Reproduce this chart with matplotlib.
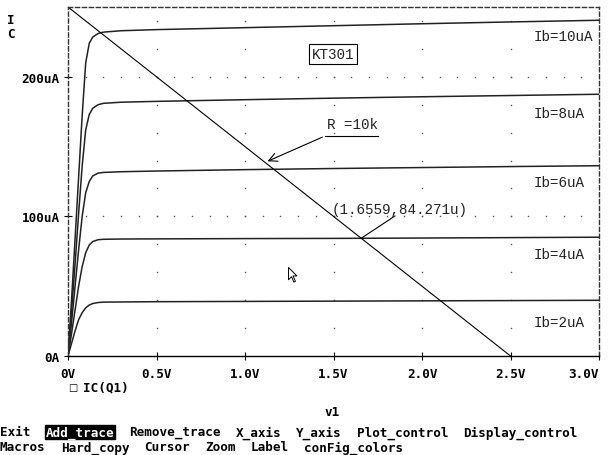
import numpy as np
import matplotlib
matplotlib.use("Agg")
import matplotlib.pyplot as plt
from matplotlib.path import Path

# collector voltage points (V) and collector currents (uA) for each base current
v_ce = [0, 0.02, 0.04, 0.06, 0.08, 0.10, 0.12, 0.14, 0.17, 0.20, 0.30, 0.50, 1.0, 1.5, 2.0, 2.5, 3.0]
ic_2u = [0, 9, 18, 26, 31, 34.5, 36.5, 37.6, 38.3, 38.6, 38.7, 38.9, 39.1, 39.3, 39.5, 39.7, 39.9]
ic_4u = [0, 16, 33, 50, 64, 74, 79.5, 82, 83.3, 83.6, 83.8, 83.9, 84.1, 84.25, 84.5, 84.8, 85.1]
ic_6u = [0, 24, 50, 76, 100, 117, 125, 129, 131, 131.5, 132, 132.5, 133.5, 134.3, 135, 135.7, 136.3]
ic_8u = [0, 32, 66, 102, 136, 162, 173, 177.5, 180, 181, 181.8, 182.4, 183.6, 184.7, 185.7, 186.6, 187.5]
ic_10u = [0, 40, 84, 128, 172, 210, 224, 228.5, 231, 232, 233, 233.8, 235.2, 236.6, 238, 239.3, 240.5]
curves = [ic_2u, ic_4u, ic_6u, ic_8u, ic_10u]
curve_labels = ["Ib=2uA", "Ib=4uA", "Ib=6uA", "Ib=8uA", "Ib=10uA"]
label_y = [24.4, 73, 124.6, 174, 229]

# load line R = 10k, Vcc = 2.5V
load_v = [0, 2.5]
load_i = [250, 0]

op_v, op_i = 1.6559, 84.271

x_ticks = [0, 0.5, 1.0, 1.5, 2.0, 2.5, 3.0]
x_ticklabels = ["0V", "0.5V", "1.0V", "1.5V", "2.0V", "2.5V", "3.0V"]
y_ticks = [0, 100, 200]
y_ticklabels = ["0A", "100uA", "200uA"]

menu1 = ["Exit", "Add_trace", "Remove_trace", "X_axis", "Y_axis", "Plot_control", "Display_control"]
menu2 = ["Macros", "Hard_copy", "Cursor", "Zoom", "Label", "conFig_colors"]

W, H = 608, 456
fig = plt.figure(figsize=(W / 100, H / 100), dpi=100)
fig.patch.set_facecolor("white")
ax = fig.add_axes([68 / W, 1 - 357 / H, (599 - 68) / W, (357 - 8) / H])
ax.set_xlim(0, 3.0)
ax.set_ylim(0, 250)

bold = dict(family="DejaVu Sans Mono", weight="bold", size=9.1)
thin = dict(family="Liberation Mono", size=10.3)

# dotted grid like the probe screen
for gx in x_ticks[1:-1]:
    gy = np.arange(20, 250, 20)
    ax.plot([gx] * len(gy), gy, ls="none", marker="s", ms=1.0, mew=0, color="#555555")
for gy in y_ticks[1:]:
    gx = np.arange(0.1, 3.0, 0.1)
    ax.plot(gx, [gy] * len(gx), ls="none", marker="s", ms=1.0, mew=0, color="#555555")

for ic in curves:
    ax.plot(v_ce, ic, color="#222222", lw=1.1)
ax.plot(load_v, load_i, color="black", lw=0.8)

for lab, ly in zip(curve_labels, label_y):
    ax.text(2.633, ly, lab, va="center", ha="left", color="#222222", **thin)

ax.text(1.497, 216.3, "KT301", ha="center", va="center", color="#222222", **thin,
        bbox=dict(boxstyle="square,pad=0.2", fc="white", ec="black", lw=0.8))

# R = 10k label with arrow to load line
ax.text(1.463, 166.2, "R =10k", ha="left", va="center", color="#222222", **thin)
ax.plot([1.452, 1.751], [157.6, 157.6], color="black", lw=0.8)
ax.annotate("", xy=(1.113, 138.7), xytext=(1.452, 157.6),
            arrowprops=dict(arrowstyle="->,head_length=0.6,head_width=0.3", color="black", lw=0.8))

# operating point label
ax.text(1.49, 105.3, "(1.6559,84.271u)", ha="left", va="center", color="#222222", **thin)
ax.plot([1.847, op_v], [100.3, op_i], color="black", lw=0.8)

# mouse cursor
cursor = Path([(0, 0), (0, -16), (4, -12), (7, -19), (9, -18), (6, -11), (11, -11), (0, 0)],
              [Path.MOVETO] + [Path.LINETO] * 6 + [Path.CLOSEPOLY])
ax.plot([1.243], [63.8], marker=cursor, ms=21, mfc="white", mec="black", mew=0.7)

# frame: dashed top/left/right, solid bottom
for side in ["top", "left", "right"]:
    ax.spines[side].set_linestyle((0, (3, 2)))
    ax.spines[side].set_linewidth(1.0)
    ax.spines[side].set_color("#333333")
ax.spines["bottom"].set_linewidth(1.0)

ax.set_xticks(x_ticks)
ax.set_xticklabels(x_ticklabels, **bold)
ax.get_xticklabels()[-1].set_horizontalalignment("right")
ax.set_yticks(y_ticks)
ax.set_yticklabels(y_ticklabels, **bold)
ax.tick_params(direction="inout", length=6, width=0.8)
ax.tick_params(axis="x", pad=5)
ax.tick_params(axis="y", pad=3)

fig.text(11 / W, 1 - 21 / H, "I", ha="center", va="center", **bold)
fig.text(11 / W, 1 - 35 / H, "C", ha="center", va="center", **bold)

# legend marker and trace name
fig.text(73 / W, 1 - 388 / H, "\u25a1", ha="center", va="center", family="DejaVu Sans", size=7)
fig.text(83 / W, 1 - 388 / H, "IC(Q1)", ha="left", va="center", **bold)
fig.text(332 / W, 1 - 413 / H, "v1", ha="center", va="center", **bold)

# menu lines, monospace cells two spaces apart
cw = 7.6
col = 0
for name in menu1:
    if name == "Add_trace":
        fig.text(col * cw / W, 1 - 433 / H, name, ha="left", va="center", color="white", **bold,
                 bbox=dict(boxstyle="square,pad=0.05", fc="black", ec="black"))
    else:
        fig.text(col * cw / W, 1 - 433 / H, name, ha="left", va="center", **bold)
    col += len(name) + 2
col = 0
for name in menu2:
    fig.text(col * cw / W, 1 - 448 / H, name, ha="left", va="center", **bold)
    col += len(name) + 2

fig.savefig("out.png", dpi=100)
